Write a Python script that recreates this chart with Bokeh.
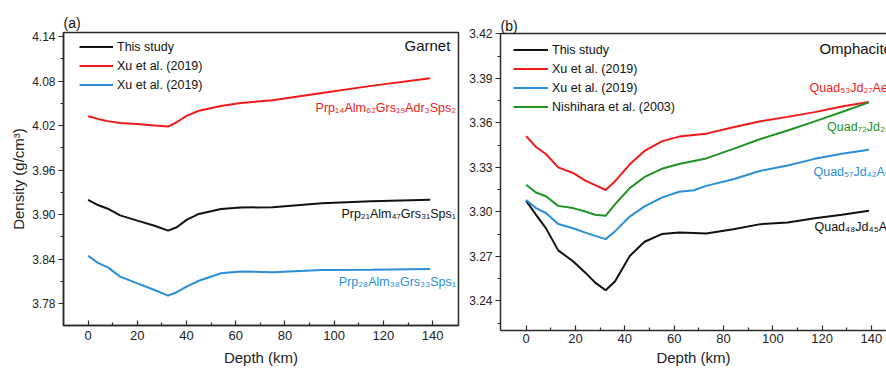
from bokeh.plotting import figure
from bokeh.layouts import row, column
from bokeh.models import (Range1d, FixedTicker, Legend, LegendItem, Title,
                          LinearAxis, NumeralTickFormatter)
from bokeh.core.properties import value
from bokeh.embed import file_html
from bokeh.resources import INLINE

FONT = "Liberation Sans"

# ---------------- Panel (a): Garnet ----------------
depth_a = [0, 4, 8, 13, 20, 27, 32.5, 36, 40, 45, 54, 62, 75, 95, 115, 139]
garnet_this = [3.920, 3.913, 3.908, 3.899, 3.892, 3.885, 3.8785, 3.883, 3.893,
               3.901, 3.9077, 3.9097, 3.910, 3.9155, 3.918, 3.920]
garnet_xu_red = [4.0325, 4.029, 4.026, 4.0236, 4.0222, 4.020, 4.0187, 4.0245,
                 4.033, 4.040, 4.0465, 4.0505, 4.054, 4.064, 4.0735, 4.0838]
garnet_xu_blue = [3.8447, 3.835, 3.829, 3.8165, 3.8074, 3.7985, 3.791, 3.7955,
                  3.803, 3.811, 3.821, 3.8235, 3.8225, 3.8255, 3.8258, 3.8268]

# ---------------- Panel (b): Omphacite ----------------
depth_b = [0, 4, 8, 13, 19, 24, 28, 32.2, 36, 42, 48, 55, 62, 68, 73, 84, 95,
           106, 117, 128, 139]
omph_this = [3.3074, 3.298, 3.289, 3.274, 3.2667, 3.259, 3.2523, 3.2471, 3.253,
             3.2702, 3.2798, 3.285, 3.286, 3.2858, 3.2854, 3.2883, 3.2917,
             3.2928, 3.2956, 3.298, 3.3007]
omph_xu_red = [3.351, 3.3437, 3.339, 3.330, 3.3262, 3.321, 3.318, 3.3147,
               3.3205, 3.332, 3.341, 3.3475, 3.3507, 3.3518, 3.3527, 3.357,
               3.361, 3.364, 3.3672, 3.371, 3.3741]
omph_xu_blue = [3.308, 3.3025, 3.2992, 3.2918, 3.2889, 3.286, 3.2838, 3.2816,
                3.2868, 3.2968, 3.3037, 3.3096, 3.3135, 3.3145, 3.3175, 3.322,
                3.3277, 3.3312, 3.3357, 3.3392, 3.3419]
omph_nishihara = [3.3182, 3.313, 3.3105, 3.304, 3.3025, 3.3002, 3.298, 3.2973,
                  3.305, 3.316, 3.3235, 3.329, 3.3322, 3.3343, 3.336, 3.3424,
                  3.3491, 3.3548, 3.361, 3.3673, 3.3738]

legend_labels_a = ["This study", "Xu et al. (2019)", "Xu et al. (2019)"]
legend_labels_b = ["This study", "Xu et al. (2019)", "Xu et al. (2019)",
                   "Nishihara et al. (2003)"]
labels_a = ["Prp₁₄Alm₆₂Grs₁₉Adr₃Sps₂", "Prp₂₁Alm₄₇Grs₃₁Sps₁", "Prp₂₈Alm₃₈Grs₃₃Sps₁"]
labels_b = ["Quad₅₃Jd₂₇Ae₂₀", "Quad₇₂Jd₂₈", "Quad₅₇Jd₄₂Ae₁", "Quad₄₈Jd₄₅Ae₇"]

x_major = [0, 20, 40, 60, 80, 100, 120, 140]
x_minor = [10, 30, 50, 70, 90, 110, 130]
ya_major = [3.78, 3.84, 3.90, 3.96, 4.02, 4.08, 4.14]
ya_minor = [3.75, 3.81, 3.87, 3.93, 3.99, 4.05, 4.11]
yb_major = [3.24, 3.27, 3.30, 3.33, 3.36, 3.39, 3.42]
yb_minor = [3.225, 3.255, 3.285, 3.315, 3.345, 3.375, 3.405]

BLACK = "#111111"
RED = "#f01a1a"
BLUE = "#2a8fd6"
GREEN = "#1f9324"
AXC = "#2a2a2a"


def style_axes(p, ymaj, ymin, tick_standoff, xlabel_standoff):
    p.grid.visible = False
    p.background_fill_color = "white"
    p.border_fill_color = "white"
    xa = p.xaxis[0]
    xa.ticker = FixedTicker(ticks=x_major, minor_ticks=x_minor)
    xa.major_tick_in = 5
    xa.major_tick_out = 0
    xa.minor_tick_in = 3
    xa.minor_tick_out = 0
    xa.major_label_standoff = tick_standoff
    xa.major_label_text_font = FONT
    xa.major_label_text_font_size = "13px"
    xa.major_label_text_color = "#222222"
    xa.axis_label_text_font = FONT
    xa.axis_label_text_font_size = "15px"
    xa.axis_label_text_font_style = "normal"
    xa.axis_label_text_color = "#222222"
    xa.axis_label_standoff = xlabel_standoff
    ya = p.yaxis[0]
    ya.ticker = FixedTicker(ticks=ymaj, minor_ticks=ymin)
    ya.formatter = NumeralTickFormatter(format="0.00")
    ya.major_tick_in = 0
    ya.major_tick_out = 5
    ya.minor_tick_in = 0
    ya.minor_tick_out = 3
    ya.major_label_standoff = 3
    ya.major_label_text_font = FONT
    ya.major_label_text_font_size = "12px"
    ya.major_label_text_color = "#222222"
    ya.axis_label_text_font = FONT
    ya.axis_label_text_font_size = "15px"
    ya.axis_label_text_font_style = "normal"
    ya.axis_label_text_color = "#222222"
    ya.axis_label_standoff = 2
    for ax in (xa, ya):
        ax.axis_line_color = AXC
        ax.axis_line_width = 1.5
        ax.major_tick_line_color = AXC
        ax.major_tick_line_width = 1.2
        ax.minor_tick_line_color = AXC
        ax.minor_tick_line_width = 1.2


def panel_title(p, text, standoff):
    p.add_layout(Title(text=text, align="left", text_font=FONT,
                       text_font_size="14px", text_font_style="normal",
                       text_color="#111111", standoff=standoff, offset=0), "above")


# ---------------- Figure (a) ----------------
p1 = figure(width=465, height=370, output_backend="svg", toolbar_location=None,
            x_range=Range1d(-10, 150.5), y_range=Range1d(3.7507, 4.1454),
            min_border_left=63, min_border_right=7, min_border_top=32,
            min_border_bottom=45)
style_axes(p1, ya_major, ya_minor, 5, 6)
p1.xaxis.axis_label = "Depth (km)"
p1.yaxis.axis_label = "Density (g/cm³)"
p1.outline_line_color = AXC
p1.outline_line_width = 1.5
p1.outline_line_alpha = 1
panel_title(p1, "(a)", 4)

ra1 = p1.line(depth_a, garnet_this, line_color=BLACK, line_width=2)
ra2 = p1.line(depth_a, garnet_xu_red, line_color=RED, line_width=2)
ra3 = p1.line(depth_a, garnet_xu_blue, line_color=BLUE, line_width=2)

p1.text(x=[149.5, 149.5, 149.5], y=[4.0443, 3.901, 3.8087], text=labels_a,
        text_color=[RED, BLACK, BLUE], text_align="right", text_baseline="middle",
        text_font=value(FONT), text_font_size=value("12.5px"))
p1.text(x=[147.2], y=[4.128], text=["Garnet"], text_color="#111111",
        text_align="right", text_baseline="middle",
        text_font=value(FONT), text_font_size=value("15px"))

leg_a = Legend(items=[LegendItem(label=value(legend_labels_a[0]), renderers=[ra1]),
                      LegendItem(label=value(legend_labels_a[1]), renderers=[ra2]),
                      LegendItem(label=value(legend_labels_a[2]), renderers=[ra3])],
               location=(16, 231), border_line_color=None, background_fill_alpha=0,
               padding=0, margin=0, spacing=0, glyph_width=34, glyph_height=19,
               label_height=19, label_standoff=4, label_text_font=FONT,
               label_text_font_size="12.5px", label_text_color="#111111")
p1.add_layout(leg_a)

# ---------------- Figure (b) ----------------
p2 = figure(width=421, height=370, output_backend="svg", toolbar_location=None,
            x_range=Range1d(-10.4, 146.1), y_range=Range1d(3.22, 3.4202),
            min_border_left=35, min_border_right=0, min_border_top=33,
            min_border_bottom=40)
style_axes(p2, yb_major, yb_minor, 3, 3)
p2.xaxis.axis_label = "Depth (km)"
p2.outline_line_color = None
top_ax = LinearAxis(ticker=FixedTicker(ticks=[]), major_label_text_font_size="0px",
                    axis_line_color=AXC, axis_line_width=1.5,
                    major_tick_line_color=None, minor_tick_line_color=None,
                    major_label_standoff=0)
p2.add_layout(top_ax, "above")
panel_title(p2, "(b)", 0)

rb1 = p2.line(depth_b, omph_this, line_color=BLACK, line_width=2)
rb2 = p2.line(depth_b, omph_xu_red, line_color=RED, line_width=2)
rb3 = p2.line(depth_b, omph_xu_blue, line_color=BLUE, line_width=2)
rb4 = p2.line(depth_b, omph_nishihara, line_color=GREEN, line_width=2)

p2.text(x=[114.9, 122.0, 116.5, 116.9], y=[3.3832, 3.3575, 3.3266, 3.2896],
        text=labels_b, text_color=[RED, GREEN, BLUE, BLACK], text_align="left",
        text_baseline="middle", text_font=value(FONT),
        text_font_size=value("12.5px"))
p2.text(x=[118.9], y=[3.4103], text=["Omphacite"], text_color="#111111",
        text_align="left", text_baseline="middle",
        text_font=value(FONT), text_font_size=value("15px"))

leg_b = Legend(items=[LegendItem(label=value(legend_labels_b[0]), renderers=[rb1]),
                      LegendItem(label=value(legend_labels_b[1]), renderers=[rb2]),
                      LegendItem(label=value(legend_labels_b[2]), renderers=[rb3]),
                      LegendItem(label=value(legend_labels_b[3]), renderers=[rb4])],
               location=(13, 214), border_line_color=None, background_fill_alpha=0,
               padding=0, margin=0, spacing=0, glyph_width=35, glyph_height=19,
               label_height=19, label_standoff=4, label_text_font=FONT,
               label_text_font_size="12.5px", label_text_color="#111111")
p2.add_layout(leg_b)

layout = row(column(p1), column(p2))
open("out.html", "w").write(file_html(layout, INLINE))
